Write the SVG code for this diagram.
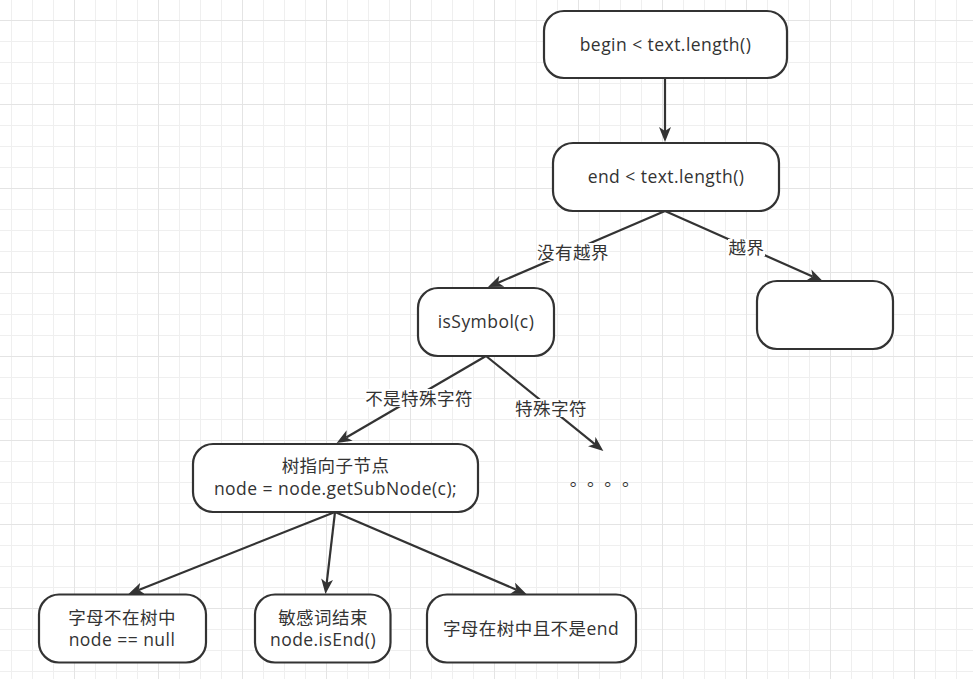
<svg xmlns="http://www.w3.org/2000/svg" width="973" height="679" viewBox="0 0 973 679">
  <defs>
    <pattern id="grid" x="-10" y="20" width="84" height="84" patternUnits="userSpaceOnUse">
      <rect x="0" y="0" width="84" height="84" fill="#ffffff"/>
      <rect x="21" y="0" width="1" height="84" fill="#efefef"/>
      <rect x="42" y="0" width="1" height="84" fill="#efefef"/>
      <rect x="63" y="0" width="1" height="84" fill="#efefef"/>
      <rect x="0" y="21" width="84" height="1" fill="#efefef"/>
      <rect x="0" y="42" width="84" height="1" fill="#efefef"/>
      <rect x="0" y="63" width="84" height="1" fill="#efefef"/>
      <rect x="0" y="0" width="1" height="84" fill="#e4e4e4"/>
      <rect x="0" y="0" width="84" height="1" fill="#e4e4e4"/>
    </pattern>
    <marker id="arrow" viewBox="0 0 15 12" refX="4" refY="6" markerWidth="15" markerHeight="12" markerUnits="userSpaceOnUse" orient="auto">
      <path d="M15,6 L0,0 L4,6 L0,12 Z" fill="#333333"/>
    </marker>
  </defs>
  <style>
    .box { fill: #ffffff; stroke: #333333; stroke-width: 2.2; }
    .edge { fill: none; stroke: #333333; stroke-width: 2.2; marker-end: url(#arrow); }
    .t { font-family: "Open Sans", "Noto Sans CJK SC", sans-serif; font-size: 17.5px; fill: #333333; text-anchor: middle; letter-spacing: 0.45px; }
    .dots { font-family: "Noto Sans CJK SC", sans-serif; font-size: 17.5px; fill: #333333; }
    .lbl { fill: #ffffff; }
  </style>

  <rect x="0" y="0" width="973" height="679" fill="url(#grid)"/>

  <g id="connectors">
    <path class="edge" d="M665,78 L665,131"/>
    <path class="edge" d="M665,211 L498.1,282.7"/>
    <path class="edge" d="M665,211 L812.6,276.5"/>
    <path class="edge" d="M486,356 L346.2,437.5"/>
    <path class="edge" d="M486,356 L594.8,444.1"/>
    <path class="edge" d="M335,512 L138.7,589.9"/>
    <path class="edge" d="M335,512 L326.7,583.1"/>
    <path class="edge" d="M335,512 L516.3,589.7"/>
    <g id="edge-labels">
      <rect class="lbl" x="537" y="243" width="72" height="18"/>
      <text class="t" x="573" y="258.5">没有越界</text>
      <rect class="lbl" x="728" y="239" width="37" height="17"/>
      <text class="t" x="746.5" y="254">越界</text>
      <rect class="lbl" x="365" y="389" width="108" height="18"/>
      <text class="t" x="419" y="404.5">不是特殊字符</text>
      <rect class="lbl" x="515" y="399" width="72" height="18"/>
      <text class="t" x="551" y="414.5">特殊字符</text>
    </g>
  </g>

  <g id="n-begin">
    <rect class="box" x="544" y="11" width="243" height="67" rx="20" ry="20"/>
    <text class="t" x="665.5" y="51">begin &lt; text.length()</text>
  </g>
  <g id="n-end">
    <rect class="box" x="553" y="143" width="226" height="68" rx="20" ry="20"/>
    <text class="t" x="666" y="183">end &lt; text.length()</text>
  </g>
  <g id="n-issymbol">
    <rect class="box" x="418" y="288" width="136" height="68" rx="20" ry="20"/>
    <text class="t" x="486" y="328">isSymbol(c)</text>
  </g>
  <g id="n-out">
    <rect class="box" x="757" y="281" width="136" height="68" rx="20" ry="20"/>
  </g>
  <g id="n-subnode">
    <rect class="box" x="193" y="444" width="285" height="68" rx="20" ry="20"/>
    <text class="t" x="335.5" y="472">树指向子节点</text>
    <text class="t" x="335.5" y="494.5">node = node.getSubNode(c);</text>
  </g>
  <g id="n-dots">
    <text class="dots" x="569.7" y="486">。</text>
    <text class="dots" x="587" y="486">。</text>
    <text class="dots" x="604.3" y="486">。</text>
    <text class="dots" x="622" y="486">。</text>
  </g>
  <g id="n-null">
    <rect class="box" x="39" y="594.5" width="167" height="68" rx="20" ry="20"/>
    <text class="t" x="122" y="624">字母不在树中</text>
    <text class="t" x="122" y="645.5">node == null</text>
  </g>
  <g id="n-isend">
    <rect class="box" x="255" y="594.5" width="135.5" height="68" rx="20" ry="20"/>
    <text class="t" x="323" y="624">敏感词结束</text>
    <text class="t" x="323" y="645.5">node.isEnd()</text>
  </g>
  <g id="n-notend">
    <rect class="box" x="427" y="594.5" width="209" height="68" rx="20" ry="20"/>
    <text class="t" x="531" y="635">字母在树中且不是end</text>
  </g>
</svg>
